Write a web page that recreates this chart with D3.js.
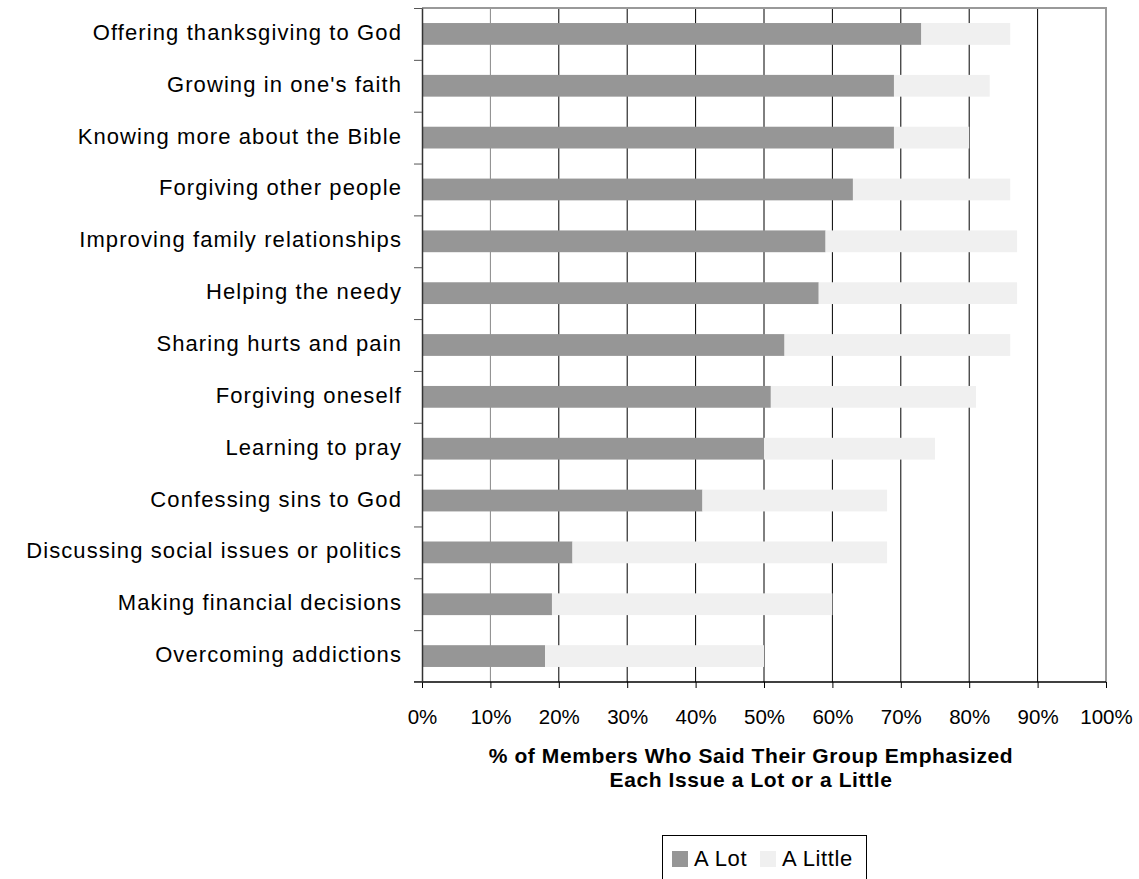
<!DOCTYPE html>
<html>
<head>
<meta charset="utf-8">
<script src="https://cdn.jsdelivr.net/npm/d3@7"></script>
<style>
  body { margin: 0; background: #fff; }
  svg { display: block; font-family: "Liberation Sans", Arial, sans-serif; }
  .cat-label { font-size: 22px; letter-spacing: 1.1px; fill: #000; }
  .x-axis text { font-size: 20.5px; fill: #000; }
  .axis-title { font-size: 21px; font-weight: bold; letter-spacing: 0.6px; }
  .legend-text { font-size: 22px; letter-spacing: 0.6px; }
</style>
</head>
<body>
<div id="chart"></div>
<script>
// Issues, top to bottom
const issues = [
  "Offering thanksgiving to God",
  "Growing in one's faith",
  "Knowing more about the Bible",
  "Forgiving other people",
  "Improving family relationships",
  "Helping the needy",
  "Sharing hurts and pain",
  "Forgiving oneself",
  "Learning to pray",
  "Confessing sins to God",
  "Discussing social issues or politics",
  "Making financial decisions",
  "Overcoming addictions"
];
const aLot    = [73, 69, 69, 63, 59, 58, 53, 51, 50, 41, 22, 19, 18];
const aLittle = [13, 14, 11, 23, 28, 29, 33, 30, 25, 27, 46, 41, 32];
const xTicks = [0, 10, 20, 30, 40, 50, 60, 70, 80, 90, 100];
const seriesNames = ["A Lot", "A Little"];
const seriesColors = ["#969696", "#f0f0f0"];

const W = 1139, H = 879;
const plotL = 422, plotR = 1106, plotT = 8, plotB = 682;

const svg = d3.select("#chart").append("svg")
  .attr("width", W).attr("height", H);

const rows = issues.map((name, i) => ({ name: name, lot: aLot[i], little: aLittle[i] }));

const x = d3.scaleLinear().domain([0, 100]).range([plotL, plotR]);
const y = d3.scaleBand().domain(issues).range([plotT, plotB])
  .paddingInner(0.58).paddingOuter(0.29);

// gridlines
svg.append("g")
  .selectAll("line")
  .data(xTicks.filter(t => t > 0 && t < 100))
  .enter().append("line")
  .attr("x1", d => x(d)).attr("x2", d => x(d))
  .attr("y1", plotT).attr("y2", plotB)
  .attr("stroke", d => d === 10 ? "#888" : "#000")
  .attr("stroke-width", 1);

// bars
const stack = d3.stack().keys(["lot", "little"]);
const layers = stack(rows);
svg.append("g")
  .selectAll("g")
  .data(layers)
  .enter().append("g")
  .attr("fill", (d, i) => seriesColors[i])
  .selectAll("rect")
  .data(d => d)
  .enter().append("rect")
  .attr("x", d => x(d[0]))
  .attr("width", d => x(d[1]) - x(d[0]))
  .attr("y", d => y(d.data.name))
  .attr("height", y.bandwidth());

// plot border (top and right)
svg.append("path")
  .attr("d", `M${plotL},${plotT}H${plotR}V${plotB}`)
  .attr("fill", "none")
  .attr("stroke", "#999")
  .attr("stroke-width", 2);

// x axis
const xAxis = d3.axisBottom(x)
  .tickValues(xTicks)
  .tickFormat(d => d + "%")
  .tickSize(6)
  .tickSizeOuter(0)
  .tickPadding(21);
const gx = svg.append("g")
  .attr("class", "x-axis")
  .attr("transform", `translate(0,${plotB})`)
  .call(xAxis);
gx.select(".domain").attr("stroke", "#000").attr("stroke-width", 1.5)
  .attr("d", `M${plotL - 8},0H${plotR}`);
gx.selectAll(".tick line").attr("stroke", "#000");
gx.selectAll(".tick text").style("font-family", "Liberation Sans, Arial, sans-serif");

// y axis: ticks at band boundaries
const yEdge = d3.scaleLinear().domain([0, issues.length]).range([plotT, plotB]);
const gy = svg.append("g")
  .attr("transform", `translate(${plotL},0)`)
  .call(d3.axisLeft(yEdge).tickValues(d3.range(issues.length + 1)).tickFormat("").tickSize(8).tickSizeOuter(0));
gy.select(".domain").attr("stroke", "#333").attr("stroke-width", 1.5);
gy.selectAll(".tick line").attr("stroke", "#555");

// category labels
svg.append("g")
  .selectAll("text")
  .data(issues)
  .enter().append("text")
  .attr("class", "cat-label")
  .attr("x", 402)
  .attr("y", d => y(d) + y.bandwidth() / 2 + 6)
  .attr("text-anchor", "end")
  .text(d => d);

// axis title
const title = svg.append("text")
  .attr("class", "axis-title")
  .attr("text-anchor", "middle");
title.append("tspan").attr("x", 751).attr("y", 763)
  .text("% of Members Who Said Their Group Emphasized");
title.append("tspan").attr("x", 751).attr("y", 787)
  .text("Each Issue a Lot or a Little");

// legend
const lg = svg.append("g");
lg.append("rect")
  .attr("x", 662.5).attr("y", 835.5)
  .attr("width", 204).attr("height", 44)
  .attr("fill", "#fff").attr("stroke", "#000");
const legendX = [672, 760];
seriesNames.forEach((name, i) => {
  lg.append("rect")
    .attr("x", legendX[i]).attr("y", 851)
    .attr("width", 16).attr("height", 16)
    .attr("fill", seriesColors[i]);
  lg.append("text")
    .attr("class", "legend-text")
    .attr("x", legendX[i] + 22).attr("y", 866)
    .text(name);
});
</script>
</body>
</html>
